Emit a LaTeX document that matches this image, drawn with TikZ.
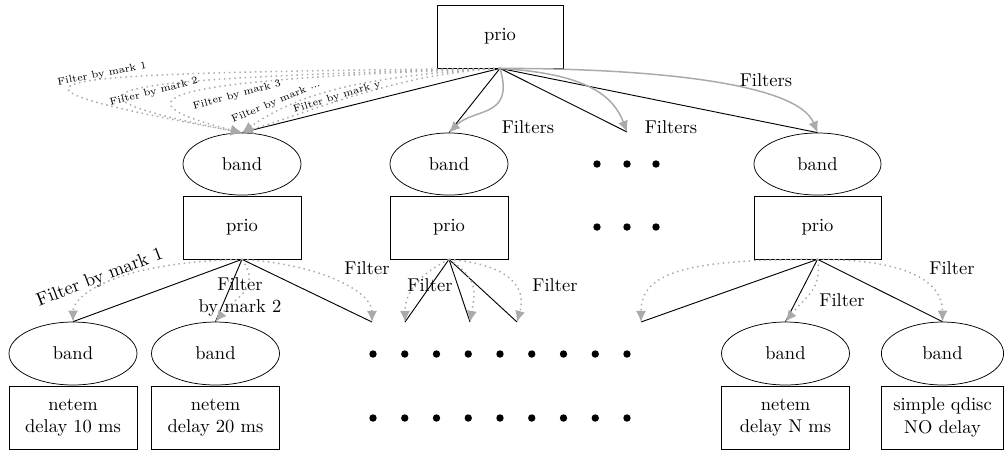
\documentclass[tikz,border=0pt]{standalone}
\usetikzlibrary{arrows.meta,shapes.geometric}
\definecolor{fgray}{RGB}{170,170,170}
\begin{document}
\begin{tikzpicture}[x=0.54pt,y=-0.54pt,
 box/.style={draw, rectangle, inner sep=2pt, align=center},
 oval/.style={draw, ellipse, inner sep=1pt},
 solidln/.style={draw=black, line width=0.5pt},
 filt/.style={draw=fgray, thick, -{Latex[length=6pt,width=5.5pt]}},
 dotfilt/.style={draw=fgray, thick, dotted, -{Latex[length=6pt,width=5.5pt]}},
 lbl/.style={inner sep=1pt},
 smlbl/.style={inner sep=0.5pt, font=\fontsize{5.5pt}{6.5pt}\selectfont},
 dotmark/.style={fill=black, circle, inner sep=0pt, minimum size=4pt}
]
\useasboundingbox (0,0) rectangle (1004,452);

% top level
\node[box, minimum width=68pt, minimum height=34pt] (P) at (500,36.5) {prio};
\node[oval, minimum width=63.7pt, minimum height=33.5pt] (B1) at (242,164) {band};
\node[oval, minimum width=63.7pt, minimum height=33.5pt] (B2) at (449,164) {band};
\node[oval, minimum width=68.6pt, minimum height=33.5pt] (B4) at (817.5,164) {band};
\node[box, minimum width=63.7pt, minimum height=34pt] (Q1) at (242,227.5) {prio};
\node[box, minimum width=63.7pt, minimum height=34pt] (Q2) at (449,227.5) {prio};
\node[box, minimum width=68.6pt, minimum height=34pt] (Q4) at (817.5,227.5) {prio};
\coordinate (D1) at (627,132);

\foreach \x [count=\i] in {597,627,656}{
  \node[dotmark] (da\i) at (\x,164) {};
  \node[dotmark] (db\i) at (\x,227) {};
}

% bottom level
\node[oval, minimum width=69.1pt, minimum height=34pt] (b1) at (73,353.5) {band};
\node[oval, minimum width=69.1pt, minimum height=34pt] (b2) at (215.5,353.5) {band};
\node[oval, minimum width=69.1pt, minimum height=34pt] (bN) at (785.5,353.5) {band};
\node[oval, minimum width=66pt, minimum height=34pt] (bL) at (942.5,353.5) {band};
\node[box, minimum width=69.1pt, minimum height=34pt] (n1) at (73,417.5) {netem\\delay 10 ms};
\node[box, minimum width=69.1pt, minimum height=34pt] (n2) at (215.5,417.5) {netem\\delay 20 ms};
\node[box, minimum width=69.1pt, minimum height=34pt] (nN) at (785.5,417.5) {netem\\delay N ms};
\node[box, minimum width=66pt, minimum height=34pt] (nL) at (942.5,417.5) {simple qdisc\\NO delay};

\foreach \i in {0,...,8}{
  \node[dotmark] (dc\i) at (373+31.75*\i,354) {};
  \node[dotmark] (dd\i) at (373+31.75*\i,418) {};
}

\coordinate (c1) at (372,322);
\coordinate (c2) at (405,322);
\coordinate (c3) at (470,322);
\coordinate (c4) at (517,322);
\coordinate (c5) at (641,322);

% top solid lines
\draw[solidln] (P.south) -- (B1.north);
\draw[solidln] (P.south) -- (B2.north);
\draw[solidln] (P.south) -- (D1);
\draw[solidln] (P.south) -- (B4.north);

% top dotted loops
\draw[dotfilt] (P.south) .. controls +(-460,5) and +(-300,-55) .. (B1.north);
\draw[dotfilt] (P.south) .. controls +(-370,10) and +(-230,-45) .. (B1.north);
\draw[dotfilt] (P.south) .. controls +(-280,10) and +(-160,-40) .. (B1.north);
\draw[dotfilt] (P.south) .. controls +(-150,8) and +(50,-35) .. (B1.north);
\draw[dotfilt] (P.south) .. controls +(-100,5) and +(80,-25) .. (B1.north);

% top gray filters
\draw[filt] (P.south) .. controls +(15,50) and +(25,-25) .. (B2.north);
\draw[filt] (P.south) .. controls +(80,5) and +(-15,-40) .. (D1);
\draw[filt] (P.south) .. controls +(150,0) and +(-20,-50) .. (B4.north);

% second level solid lines
\draw[solidln] (Q1.south) -- (b1.north);
\draw[solidln] (Q1.south) -- (b2.north);
\draw[solidln] (Q1.south) -- (c1);
\draw[solidln] (Q2.south) -- (c2);
\draw[solidln] (Q2.south) -- (c3);
\draw[solidln] (Q2.south) -- (c4);
\draw[solidln] (Q4.south) -- (c5);
\draw[solidln] (Q4.south) -- (bN.north);
\draw[solidln] (Q4.south) -- (bL.north);

% second level dotted filters
\draw[dotfilt] (Q1.south) .. controls +(-130,3) and +(0,-25) .. (b1.north);
\draw[dotfilt] (Q1.south) .. controls +(20,30) and +(20,-25) .. (b2.north);
\draw[dotfilt] (Q1.south) .. controls +(80,5) and +(0,-30) .. (c1);
\draw[dotfilt] (Q2.south) .. controls +(-30,15) and +(0,-30) .. (c2);
\draw[dotfilt] (Q2.south) .. controls +(30,20) and +(5,-30) .. (c3);
\draw[dotfilt] (Q2.south) .. controls +(60,5) and +(10,-35) .. (c4);
\draw[dotfilt] (Q4.south) .. controls +(-130,0) and +(0,-50) .. (c5);
\draw[dotfilt] (Q4.south) .. controls +(5,30) and +(20,-25) .. (bN.north);
\draw[dotfilt] (Q4.south) .. controls +(90,0) and +(0,-40) .. (bL.north);

% labels
\node[smlbl, rotate=11] (t1) at (102,74) {Filter by mark 1};
\node[smlbl, rotate=14] (t2) at (154,92) {Filter by mark 2};
\node[smlbl, rotate=15] (t3) at (237,95) {Filter by mark 3};
\node[smlbl, rotate=23] (t4) at (276,102) {Filter by mark ...};
\node[smlbl, rotate=17] (t5) at (337,97) {Filter by mark y};
\node[lbl] (f1) at (528,127) {Filters};
\node[lbl] (f2) at (671,127) {Filters};
\node[lbl] (f3) at (766,80) {Filters};
\node[lbl, rotate=21] (g1) at (100,278) {Filter by mark 1};
\node[lbl, align=center] (g2) at (240,297) {Filter\\by mark 2};
\node[lbl] (g3) at (367,268) {Filter};
\node[lbl] (g4) at (430,285) {Filter};
\node[lbl] (g5) at (555,285) {Filter};
\node[lbl] (g6) at (842,300) {Filter};
\node[lbl] (g7) at (952,268) {Filter};
\end{tikzpicture}
\end{document}
